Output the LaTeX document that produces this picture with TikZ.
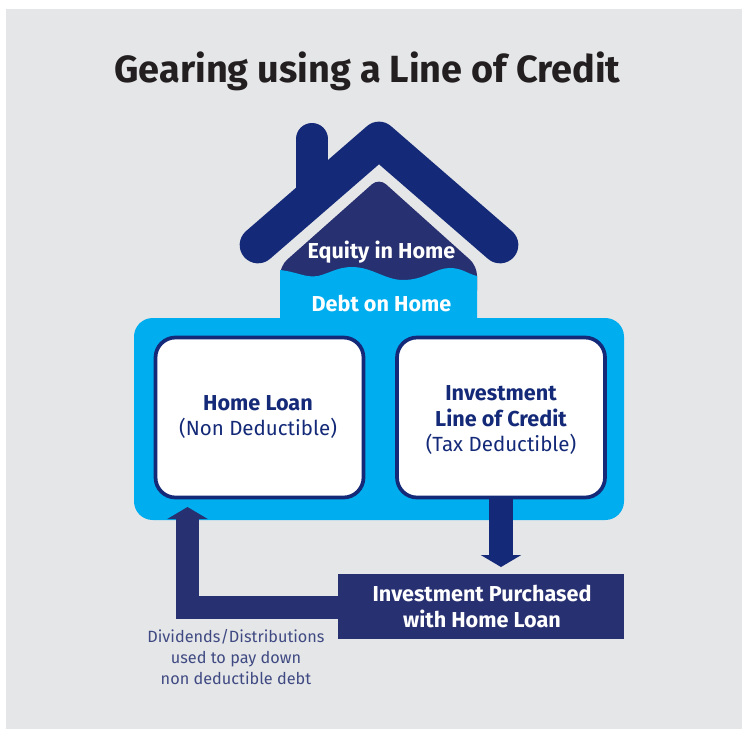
\documentclass[tikz,border=0pt]{standalone}
\usepackage{fontspec}
\setmainfont{Fira Sans}
\usetikzlibrary{arrows.meta}
\definecolor{bgGrey}{HTML}{E5E6E8}
\definecolor{inkBlack}{HTML}{231F20}
\definecolor{roofNavy}{HTML}{142A78}
\definecolor{deepNavy}{HTML}{273070}
\definecolor{skyBlue}{HTML}{00AEEF}
\definecolor{noteBlue}{HTML}{3F4A82}
\newcommand{\boldsz}{\fontsize{16.2}{19}\selectfont\bfseries}
\newcommand{\plainsz}{\fontsize{15.4}{19}\selectfont}
\tikzset{
  x=0.75pt,y=-0.75pt,
  panelbox/.style={fill=skyBlue,rounded corners=14pt,minimum width=367.5pt,minimum height=151.5pt,inner sep=0pt},
  loanbox/.style={fill=white,draw=roofNavy,line width=2.8pt,rounded corners=15pt,minimum width=156pt,minimum height=120pt,inner sep=0pt},
  purchasebox/.style={fill=deepNavy,minimum width=214.5pt,minimum height=48.75pt,inner sep=0pt},
  boldwhite/.style={text=white,font=\boldsz,align=center,inner sep=0pt},
  boxtext/.style={text=roofNavy,font=\plainsz,align=center,inner sep=0pt},
  notetext/.style={text=noteBlue,font=\fontsize{12.2}{15.5}\selectfont,align=center,inner sep=0pt},
  roofline/.style={draw=roofNavy,line width=27.5pt,line cap=round,line join=round},
  blockarrow/.style={line width=17.5pt}
}
\begin{document}
\begin{tikzpicture}
\useasboundingbox (0,0) rectangle (742,729);
\fill[bgGrey] (6,9) rectangle (742,729);
\node[text=inkBlack,font=\fontsize{28.4}{34}\selectfont\bfseries,inner sep=0pt] (title) at (367.5,71.5) {Gearing using a Line of Credit};
% house
\draw[roofline,line width=24pt] (312,139) -- (312,195);
\draw[roofline] (258,245) -- (379,140) -- (500,245);
\fill[deepNavy,rounded corners=7pt] (280,300) -- (280,266) -- (379,178) -- (477,266) -- (477,300) -- cycle;
\fill[skyBlue] (280,270) .. controls (298,272) and (305,278) .. (318,276) .. controls (330,273) and (338,267) .. (352,267) .. controls (372,267) and (385,280) .. (403,280) .. controls (425,280) and (435,268) .. (450,268) .. controls (462,268) and (468,274) .. (477,276) -- (477,320) -- (280,320) -- cycle;
\node[boldwhite] (equity) at (381.5,252) {Equity in Home};
\node[boldwhite] (debt) at (381.5,303) {Debt on Home};
% panel
\node[panelbox] (panel) at (379,419) {};
\node[loanbox] (home) at (259.5,417.5) {};
\node[loanbox] (line) at (501,417.5) {};
\node[boxtext] (hometext) at (258,417) {{\boldsz Home Loan}\\(Non Deductible)};
\node[boxtext] (linetext) at (501,420) {{\boldsz Investment}\\{\boldsz Line of Credit}\\(Tax Deductible)};
% purchased box
\node[purchasebox] (purchase) at (481,606.5) {};
\node[boldwhite] (purchasetext) at (482,606.5) {Investment Purchased\\with Home Loan};
% arrows
\coordinate (downtip) at (line.south |- 0,567);
\coordinate (uptip) at (187.5,507);
\draw[blockarrow,roofNavy,-{Triangle[width=30pt,length=9pt]}] (line.south) -- (downtip);
\draw[blockarrow,deepNavy,-{Triangle[width=30pt,length=9pt]}] ([yshift=-0.75pt]purchase.west) -| (uptip);
\node[notetext] (note) at (236,657) {Dividends/Distributions\\used to pay down\\non deductible debt};
\end{tikzpicture}
\end{document}
